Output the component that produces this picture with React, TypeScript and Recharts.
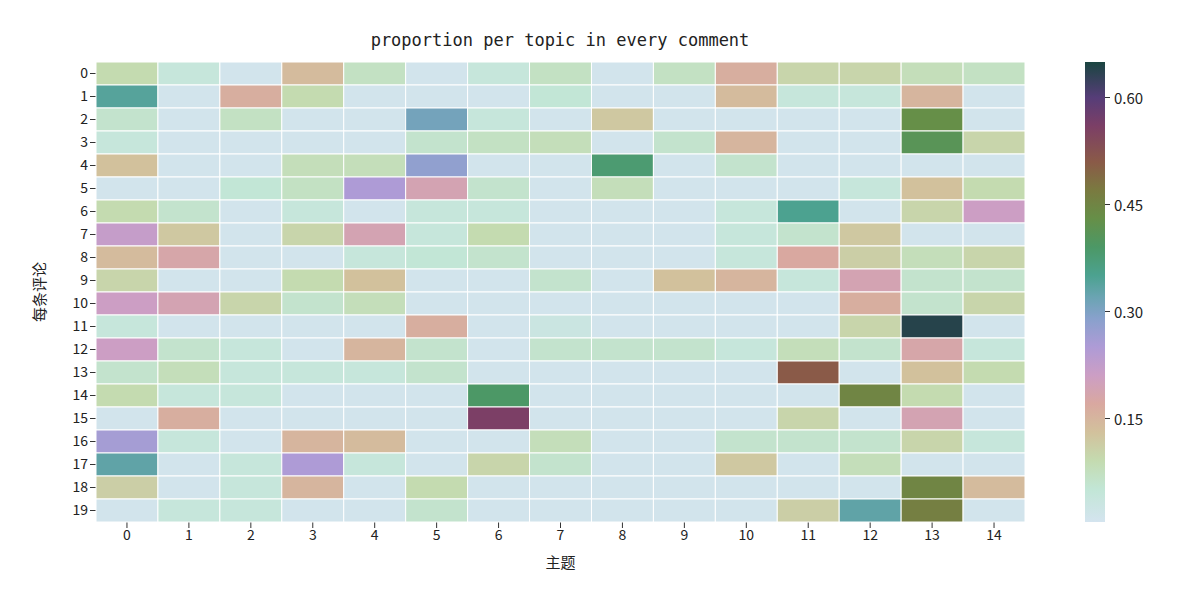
import { ScatterChart, Scatter, XAxis, YAxis } from 'recharts'

const topics = [0, 1, 2, 3, 4, 5, 6, 7, 8, 9, 10, 11, 12, 13, 14]
const comments = [0, 1, 2, 3, 4, 5, 6, 7, 8, 9, 10, 11, 12, 13, 14, 15, 16, 17, 18, 19]
const barTicks = [0.15, 0.3, 0.45, 0.6]

// rows = comments, columns = topics
const proportions = [
  [0.09, 0.04, 0.01, 0.14, 0.07, 0.01, 0.04, 0.07, 0.01, 0.07, 0.16, 0.1, 0.1, 0.08, 0.07],
  [0.34, 0.01, 0.16, 0.09, 0.01, 0.01, 0.01, 0.05, 0.01, 0.01, 0.14, 0.04, 0.04, 0.15, 0.01],
  [0.06, 0.01, 0.07, 0.01, 0.01, 0.31, 0.04, 0.01, 0.12, 0.01, 0.01, 0.01, 0.01, 0.43, 0.01],
  [0.04, 0.01, 0.01, 0.01, 0.01, 0.06, 0.07, 0.08, 0.01, 0.06, 0.15, 0.01, 0.01, 0.41, 0.1],
  [0.13, 0.01, 0.01, 0.08, 0.08, 0.28, 0.01, 0.01, 0.38, 0.01, 0.06, 0.01, 0.01, 0.01, 0.01],
  [0.01, 0.01, 0.05, 0.07, 0.25, 0.19, 0.06, 0.01, 0.08, 0.01, 0.01, 0.01, 0.04, 0.13, 0.09],
  [0.09, 0.06, 0.01, 0.04, 0.01, 0.04, 0.04, 0.01, 0.01, 0.01, 0.04, 0.35, 0.01, 0.1, 0.21],
  [0.22, 0.12, 0.01, 0.1, 0.19, 0.04, 0.09, 0.01, 0.01, 0.01, 0.04, 0.06, 0.12, 0.01, 0.01],
  [0.14, 0.18, 0.01, 0.01, 0.04, 0.05, 0.06, 0.01, 0.01, 0.01, 0.04, 0.17, 0.11, 0.08, 0.1],
  [0.1, 0.01, 0.01, 0.09, 0.13, 0.01, 0.01, 0.06, 0.01, 0.13, 0.15, 0.04, 0.19, 0.06, 0.06],
  [0.21, 0.19, 0.1, 0.06, 0.08, 0.01, 0.01, 0.01, 0.01, 0.01, 0.01, 0.01, 0.16, 0.06, 0.1],
  [0.04, 0.01, 0.01, 0.01, 0.01, 0.16, 0.01, 0.03, 0.01, 0.01, 0.01, 0.01, 0.1, 0.64, 0.01],
  [0.21, 0.06, 0.04, 0.01, 0.15, 0.06, 0.01, 0.06, 0.06, 0.06, 0.04, 0.08, 0.06, 0.18, 0.04],
  [0.06, 0.08, 0.04, 0.04, 0.04, 0.06, 0.01, 0.01, 0.01, 0.01, 0.01, 0.51, 0.01, 0.13, 0.09],
  [0.09, 0.04, 0.04, 0.01, 0.01, 0.01, 0.39, 0.01, 0.01, 0.01, 0.01, 0.01, 0.45, 0.09, 0.01],
  [0.01, 0.16, 0.01, 0.01, 0.01, 0.01, 0.56, 0.01, 0.01, 0.01, 0.01, 0.1, 0.01, 0.19, 0.01],
  [0.26, 0.04, 0.01, 0.15, 0.14, 0.01, 0.01, 0.08, 0.01, 0.01, 0.06, 0.06, 0.06, 0.1, 0.04],
  [0.33, 0.01, 0.04, 0.25, 0.04, 0.01, 0.1, 0.06, 0.01, 0.01, 0.12, 0.01, 0.08, 0.01, 0.01],
  [0.11, 0.01, 0.04, 0.15, 0.01, 0.09, 0.01, 0.01, 0.01, 0.01, 0.01, 0.01, 0.01, 0.45, 0.14],
  [0.01, 0.04, 0.04, 0.01, 0.01, 0.06, 0.01, 0.01, 0.01, 0.01, 0.01, 0.11, 0.33, 0.46, 0.01],
]

const VMIN = 0.004
const VMAX = 0.65
const stops: [number, string][] = [
  [0.004, '#d4e4ef'], [0.05, '#c2e6d6'], [0.09, '#c4dbb0'], [0.13, '#d2c19c'],
  [0.17, '#d9a8a0'], [0.21, '#cc9ec4'], [0.25, '#ae9bd6'], [0.29, '#88a1cc'],
  [0.32, '#6aa4b2'], [0.35, '#4ca290'], [0.39, '#4c9866'], [0.43, '#668f48'],
  [0.47, '#7a7a40'], [0.51, '#8a5a48'], [0.56, '#7c3f66'], [0.6, '#563d78'],
  [0.65, '#1a4540'],
]

function hex(c: string) {
  return [1, 3, 5].map(i => parseInt(c.slice(i, i + 2), 16))
}
function colorFor(v: number) {
  if (v <= stops[0][0]) return stops[0][1]
  for (let i = 1; i < stops.length; i++) {
    if (v <= stops[i][0]) {
      const [v0, c0] = stops[i - 1]
      const [v1, c1] = stops[i]
      const t = (v - v0) / (v1 - v0)
      const a = hex(c0), b = hex(c1)
      return `rgb(${a.map((x, k) => Math.round(x + (b[k] - x) * t)).join(',')})`
    }
  }
  return stops[stops.length - 1][1]
}

const cells = comments.flatMap(r => topics.map(c => ({ x: c, y: r, v: proportions[r][c] })))

const PLOT_L = 96, PLOT_R = 1025, PLOT_T = 62, PLOT_B = 522
const CW = (PLOT_R - PLOT_L) / topics.length
const CH = (PLOT_B - PLOT_T) / comments.length

const Cell = (p: any) => (
  <rect x={p.cx - CW / 2} y={p.cy - CH / 2} width={CW} height={CH}
    fill={colorFor(p.payload.v)} stroke="#fff" strokeWidth={1} />
)

const font = '"Noto Sans CJK SC", sans-serif'
const tick = { fontSize: 14, fill: '#222', fontFamily: font }

export default function App() {
  const gradient = `linear-gradient(to top, ${stops.map(([v, c]) => `${c} ${((v - VMIN) / (VMAX - VMIN)) * 100}%`).join(', ')})`
  return (
    <div style={{ position: 'absolute', left: 0, top: 0, width: 1192, height: 591, background: '#fff', fontFamily: font }}>
      <ScatterChart width={1192} height={591}
        margin={{ top: PLOT_T, left: PLOT_L - 40, right: 1192 - PLOT_R, bottom: 591 - PLOT_B - 50 }}>
        <XAxis type="number" dataKey="x" domain={[-0.5, 14.5]} ticks={topics} tick={tick}
          axisLine={false} tickLine={{ stroke: '#333' }} height={50} interval={0}
          label={{ value: '主题', position: 'insideBottom', offset: 4, fontSize: 15, fill: '#222', fontFamily: font }} />
        <YAxis type="number" dataKey="y" domain={[-0.5, 19.5]} ticks={comments} reversed tick={tick}
          axisLine={false} tickLine={{ stroke: '#333' }} width={40} interval={0} />
        <Scatter data={cells} shape={Cell} isAnimationActive={false} />
      </ScatterChart>
      <div style={{ position: 'absolute', left: 330, top: 30, width: 460, textAlign: 'center', fontSize: 17, fontFamily: '"DejaVu Sans Mono", monospace', color: '#222' }}>
        proportion per topic in every comment
      </div>
      <div style={{ position: 'absolute', left: 30, top: 292, transform: 'translate(-50%,-50%) rotate(-90deg)', fontSize: 15, color: '#222', whiteSpace: 'nowrap', marginLeft: 8 }}>
        每条评论
      </div>
      <div style={{ position: 'absolute', left: 1085, top: PLOT_T, width: 20, height: PLOT_B - PLOT_T, background: gradient }} />
      {barTicks.map(t => {
        const y = PLOT_B - ((t - VMIN) / (VMAX - VMIN)) * (PLOT_B - PLOT_T)
        return (
          <div key={t} style={{ position: 'absolute', left: 1105, top: y - 10, height: 20, display: 'flex', alignItems: 'center', fontSize: 15, color: '#222' }}>
            <span style={{ width: 5, height: 1, background: '#333', marginRight: 4 }} />{t.toFixed(2)}
          </div>
        )
      })}
    </div>
  )
}
